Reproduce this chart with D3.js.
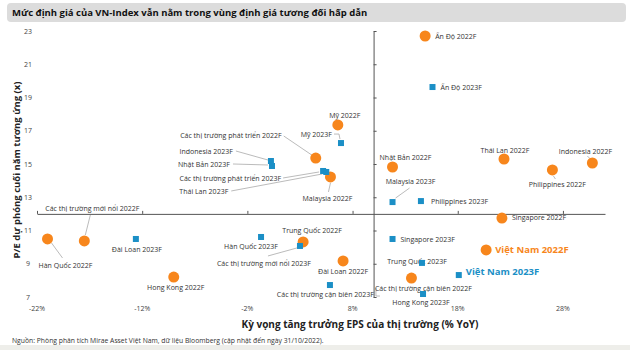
<!DOCTYPE html>
<html>
<head>
<meta charset="utf-8">
<script src="https://cdn.jsdelivr.net/npm/d3@7"></script>
<style>
  body { margin: 0; background: #fff; }
  svg { font-family: "Open Sans", sans-serif; }
</style>
</head>
<body>
<svg width="630" height="350"></svg>
<script>
// Dữ liệu 2022F
const names2022 = ["Ấn Độ", "Mỹ", "Các thị trường phát triển", "Malaysia", "Nhật Bản", "Thái Lan",
  "Philippines", "Indonesia", "Singapore", "Các thị trường mới nổi", "Hàn Quốc", "Hong Kong",
  "Trung Quốc", "Đài Loan", "Các thị trường cận biên", "Việt Nam"];
const eps2022 = [14.9, 6.6, 4.5, 5.9, 11.8, 22.4, 27.0, 30.8, 22.2, -17.5, -21.0, -9.0, 3.3, 7.1, 13.6, 20.7];
const pe2022 = [22.7, 17.35, 15.36, 14.22, 14.82, 15.3, 14.64, 15.06, 11.75, 10.37, 10.49, 8.2, 10.31, 9.17, 8.14, 9.83];

// Dữ liệu 2023F
const names2023 = ["Ấn Độ", "Mỹ", "Indonesia", "Nhật Bản", "Các thị trường phát triển", "Thái Lan",
  "Malaysia", "Philippines", "Singapore", "Trung Quốc", "Hong Kong", "Việt Nam", "Đài Loan",
  "Hàn Quốc", "Các thị trường mới nổi", "Các thị trường cận biên"];
const eps2023 = [15.6, 6.9, 0.24, 0.34, 5.2, 5.5, 11.8, 14.5, 11.8, 14.6, 14.7, 18.1, -12.6, -0.7, 3.0, 5.85];
const pe2023 = [19.63, 16.26, 15.18, 14.88, 14.58, 14.52, 12.71, 12.77, 10.49, 9.05, 7.18, 8.32, 10.49, 10.61, 10.07, 7.72];

const xTicks = [-22, -12, -2, 8, 18, 28];
const yTicks = [7, 9, 11, 13, 15, 17, 19, 21, 23];

// Vị trí nhãn (dx, dy so với điểm) và đường dẫn
const labelPos = {
  "Ấn Độ 2022F": { dx: 10, dy: 3, a: "start" },
  "Mỹ 2022F": { dx: 7, dy: -7 },
  "Các thị trường phát triển 2022F": { dx: -34, dy: -20, a: "end", lead: [[-32, -22], [-4, -3]] },
  "Malaysia 2022F": { dx: -3, dy: 24, lead: [[0, 6], [-2, 15]] },
  "Nhật Bản 2022F": { dx: 13, dy: -7 },
  "Thái Lan 2022F": { dx: 1, dy: -6 },
  "Philippines 2022F": { dx: 5, dy: 17, lead: [[1, 6], [3, 9]] },
  "Indonesia 2022F": { dx: -7, dy: -9, lead: [[-5, -7], [-2, -4]] },
  "Singapore 2022F": { dx: 10, dy: 2, a: "start" },
  "Các thị trường mới nổi 2022F": { dx: 8, dy: -30, lead: [[6, -26], [1, -6]] },
  "Hàn Quốc 2022F": { dx: 18, dy: 29, lead: [[4, 4], [15, 19]] },
  "Hong Kong 2022F": { dx: 2, dy: 13 },
  "Trung Quốc 2022F": { dx: 9, dy: -9 },
  "Đài Loan 2022F": { dx: 0, dy: 13 },
  "Các thị trường cận biên 2022F": { dx: 12, dy: 13 },
  "Việt Nam 2022F": { dx: 9, dy: 3, a: "start", big: true },
  "Ấn Độ 2023F": { dx: 8, dy: 3, a: "start" },
  "Mỹ 2023F": { dx: -9, dy: -6, a: "end", lead: [[-7, -9], [-2, -9], [-1, -4]] },
  "Indonesia 2023F": { dx: -38, dy: -7, a: "end", lead: [[-35, -10], [-3, -1]] },
  "Nhật Bản 2023F": { dx: -42, dy: 1, a: "end", lead: [[-39, -2], [-4, -1]] },
  "Các thị trường phát triển 2023F": { dx: -42, dy: 10, a: "end", lead: [[-40, 7], [-4, 1]] },
  "Thái Lan 2023F": { dx: -98, dy: 22, a: "end", lead: [[-95, 19], [-4, 2]] },
  "Malaysia 2023F": { dx: 18, dy: -18, lead: [[17, -14], [3, -4]] },
  "Philippines 2023F": { dx: 10, dy: 3, a: "start" },
  "Singapore 2023F": { dx: 8, dy: 3, a: "start" },
  "Trung Quốc 2023F": { dx: -5, dy: 1 },
  "Hong Kong 2023F": { dx: -2, dy: 11 },
  "Việt Nam 2023F": { dx: 7, dy: 0, a: "start", big: true },
  "Đài Loan 2023F": { dx: 1, dy: 13 },
  "Hàn Quốc 2023F": { dx: -10, dy: 12 },
  "Các thị trường mới nổi 2023F": { dx: -36, dy: 20, lead: [[-32, 10], [-3, 2]] },
  "Các thị trường cận biên 2023F": { dx: 44, dy: 12, a: "end", lead: [[46, 3], [46, 11], [50, 11]] }
};

const orange = "#f7861c";
const blue = "#1b8fc6";

const svg = d3.select("svg");

// Tiêu đề
svg.append("rect")
  .attr("x", 7).attr("y", 3).attr("width", 619).attr("height", 19).attr("rx", 4)
  .attr("fill", "#dcdcdc");
svg.append("text")
  .attr("x", 12).attr("y", 16)
  .attr("font-size", 9.5).attr("font-weight", "bold").attr("fill", "#111")
  .text("Mức định giá của VN-Index vẫn nằm trong vùng định giá tương đối hấp dẫn");

// Skaler
const x = d3.scaleLinear().domain([-22, 32]).range([37, 605]);
const y = d3.scaleLinear().domain([7, 23]).range([297, 31]);

// Trục dọc (cắt tại 10%)
const yAxis = svg.append("g")
  .attr("transform", `translate(${x(10)},0)`)
  .call(d3.axisRight(y).tickValues(yTicks).tickSize(3).tickSizeOuter(0).tickFormat(""));
// Trục ngang (cắt tại 12)
const xAxis = svg.append("g")
  .attr("transform", `translate(0,${y(12)})`)
  .call(d3.axisTop(x).tickValues(xTicks).tickSize(3).tickSizeOuter(0).tickFormat(""));
[yAxis, xAxis].forEach(g => {
  g.select(".domain").attr("stroke", "#555");
  g.selectAll(".tick line").attr("stroke", "#555");
});

// Nhãn trục
svg.append("g").selectAll("text").data(yTicks).join("text")
  .attr("x", 28).attr("y", d => y(d) + 2.5)
  .attr("text-anchor", "middle").attr("font-size", 7).attr("fill", "#444")
  .text(d => d);
svg.append("g").selectAll("text").data(xTicks).join("text")
  .attr("x", d => x(d)).attr("y", 311)
  .attr("text-anchor", "middle").attr("font-size", 7).attr("fill", "#444")
  .text(d => d + "%");

svg.append("text")
  .attr("transform", "translate(20,170) rotate(-90)")
  .attr("text-anchor", "middle").attr("font-size", 9.5).attr("font-weight", "bold").attr("fill", "#222")
  .text("P/E dự phóng cuối năm tương ứng (x)");
svg.append("text")
  .attr("x", 360).attr("y", 328)
  .attr("text-anchor", "middle").attr("font-size", 10).attr("font-weight", "bold").attr("fill", "#222")
  .text("Kỳ vọng tăng trưởng EPS của thị trường (% YoY)");

// Punkter
const pts = [
  ...names2022.map((n, i) => ({ label: n + " 2022F", eps: eps2022[i], pe: pe2022[i], s: 0 })),
  ...names2023.map((n, i) => ({ label: n + " 2023F", eps: eps2023[i], pe: pe2023[i], s: 1 }))
];

const lead = d3.line();
svg.append("g").selectAll("path").data(pts.filter(d => labelPos[d.label].lead)).join("path")
  .attr("d", d => lead(labelPos[d.label].lead.map(p => [x(d.eps) + p[0], y(d.pe) + p[1]])))
  .attr("fill", "none").attr("stroke", "#aaa").attr("stroke-width", 0.8);

svg.append("g").selectAll("text").data(pts).join("text")
  .attr("x", d => x(d.eps) + labelPos[d.label].dx)
  .attr("y", d => y(d.pe) + labelPos[d.label].dy)
  .attr("text-anchor", d => labelPos[d.label].a || "middle")
  .attr("font-size", d => labelPos[d.label].big ? 9.5 : 7)
  .attr("font-weight", d => labelPos[d.label].big ? "bold" : "normal")
  .attr("fill", d => labelPos[d.label].big ? (d.s ? blue : orange) : "#333")
  .text(d => d.label);

svg.append("g").selectAll("circle").data(pts.filter(d => d.s === 0)).join("circle")
  .attr("cx", d => x(d.eps)).attr("cy", d => y(d.pe)).attr("r", 5.5)
  .attr("fill", orange);
svg.append("g").selectAll("rect").data(pts.filter(d => d.s === 1)).join("rect")
  .attr("x", d => x(d.eps) - 3).attr("y", d => y(d.pe) - 3)
  .attr("width", 6).attr("height", 6)
  .attr("fill", blue);

// Nguồn
svg.append("text")
  .attr("x", 12).attr("y", 343)
  .attr("font-size", 6.8).attr("fill", "#333")
  .text("Nguồn: Phòng phân tích Mirae Asset Việt Nam, dữ liệu Bloomberg (cập nhật đến ngày 31/10/2022).");
svg.append("rect")
  .attr("x", 0).attr("y", 345).attr("width", 630).attr("height", 5)
  .attr("fill", "#eeeeea");
</script>
</body>
</html>
